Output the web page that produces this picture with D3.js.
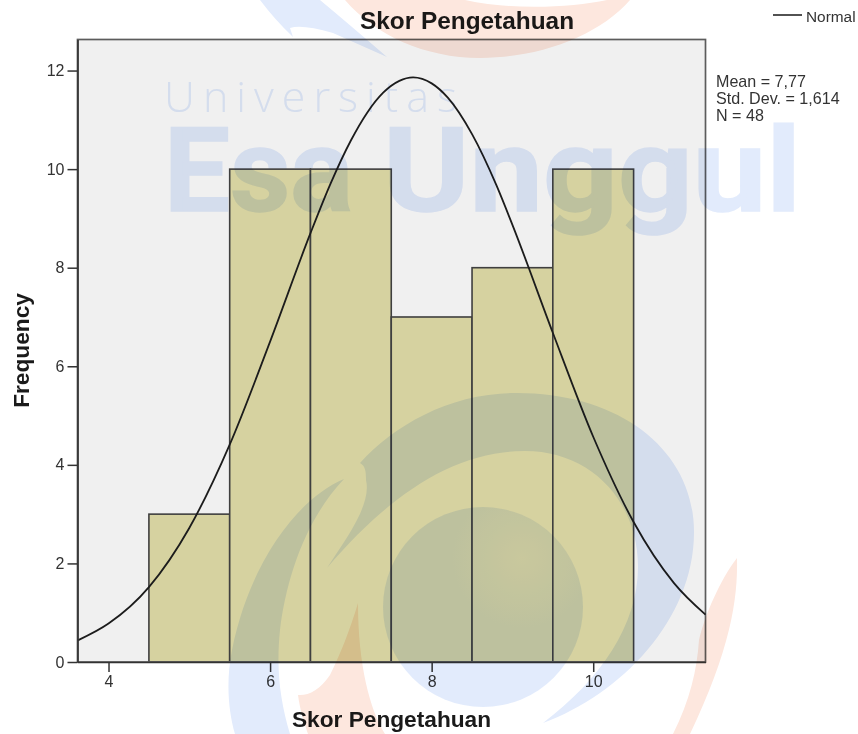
<!DOCTYPE html>
<html>
<head>
<meta charset="utf-8">
<script src="https://cdn.jsdelivr.net/npm/d3@7"></script>
<style>
  html, body { margin: 0; padding: 0; background: #fff; overflow: hidden; }
  svg { display: block; filter: blur(0.45px); }
  text { font-family: "Liberation Sans", Arial, sans-serif; }
</style>
</head>
<body>
<div id="chart"></div>
<script>
// histogram
var binCenters = [5, 6, 7, 8, 9, 10];
var binCounts = [3, 10, 10, 7, 8, 10];

// normal curve
var curveX = [3.62, 4, 4.5, 5, 5.5, 6, 6.5, 6.75, 7, 7.2, 7.4, 7.6, 7.77, 8, 8.2, 8.5, 8.8, 9, 9.5, 10, 10.5, 11, 11.39];
var curveY = [0.44, 0.78, 1.52, 2.72, 4.41, 6.5, 8.7, 9.71, 10.58, 11.14, 11.55, 11.79, 11.86, 11.74, 11.45, 10.71, 9.68, 8.87, 6.68, 4.57, 2.84, 1.6, 0.96];

var xTicks = [4, 6, 8, 10];
var yTicks = [0, 2, 4, 6, 8, 10, 12];
var statLines = ["Mean = 7,77", "Std. Dev. = 1,614", "N = 48"];
var titleText = "Skor Pengetahuan";
var xTitle = "Skor Pengetahuan";
var yTitle = "Frequency";
var legendText = "Normal";

var width = 858;
var height = 734;
var margin = { top: 39.5, right: 152.5, bottom: 72, left: 77.5 };
var lineColor = "#333";

var svg = d3.select("#chart").append("svg")
  .attr("width", width)
  .attr("height", height);

svg.append("rect")
  .attr("width", width)
  .attr("height", height)
  .attr("fill", "#fff");

var x = d3.scaleLinear()
  .domain([3.616, 11.39])
  .range([margin.left, width - margin.right]);

var y = d3.scaleLinear()
  .domain([0, 12.63])
  .range([height - margin.bottom, margin.top]);

// plot frame
svg.append("rect")
  .attr("x", margin.left)
  .attr("y", margin.top)
  .attr("width", width - margin.left - margin.right)
  .attr("height", height - margin.top - margin.bottom)
  .attr("fill", "#f0f0f0");

// bars
svg.selectAll("rect.bar")
  .data(binCenters)
  .enter()
  .append("rect")
  .attr("class", "bar")
  .attr("x", function (d) { return x(d - 0.5); })
  .attr("y", function (d, i) { return y(binCounts[i]); })
  .attr("width", function (d) { return x(d + 0.5) - x(d - 0.5); })
  .attr("height", function (d, i) { return y(0) - y(binCounts[i]); })
  .attr("fill", "#d6d2a0")
  .attr("stroke", "#3f3f3f")
  .attr("stroke-width", 1.6);

// frame on top of bars, left and bottom come from the axes
svg.append("rect")
  .attr("x", margin.left)
  .attr("y", margin.top)
  .attr("width", width - margin.left - margin.right)
  .attr("height", height - margin.top - margin.bottom)
  .attr("fill", "none")
  .attr("stroke", "#5c5c5c")
  .attr("stroke-width", 1.7);

var line = d3.line()
  .x(function (d) { return x(d); })
  .y(function (d, i) { return y(curveY[i]); })
  .curve(d3.curveMonotoneX);

svg.append("path")
  .datum(curveX)
  .attr("d", line)
  .attr("fill", "none")
  .attr("stroke", "#1c1c1c")
  .attr("stroke-width", 1.8);

// axes
var xAxis = svg.append("g")
  .attr("transform", "translate(0," + y(0) + ")")
  .call(d3.axisBottom(x).tickValues(xTicks).tickSize(10).tickPadding(4).tickSizeOuter(0));
var yAxis = svg.append("g")
  .attr("transform", "translate(" + margin.left + ",0)")
  .call(d3.axisLeft(y).tickValues(yTicks).tickSize(10).tickPadding(3).tickSizeOuter(0));

[xAxis, yAxis].forEach(function (g) {
  g.select(".domain").attr("stroke", lineColor).attr("stroke-width", 1.7);
  g.selectAll(".tick line").attr("stroke", lineColor).attr("stroke-width", 1.5);
  g.selectAll(".tick text")
    .attr("fill", "#333")
    .style("font-family", "'Liberation Sans', Arial, sans-serif")
    .style("font-size", "16px");
});

// titles
svg.append("text")
  .attr("x", 467)
  .attr("y", 29)
  .attr("text-anchor", "middle")
  .attr("fill", "#1a1a1a")
  .style("font-size", "24.4px")
  .style("font-weight", "bold")
  .text(titleText);

svg.append("text")
  .attr("x", 391.5)
  .attr("y", 727)
  .attr("text-anchor", "middle")
  .attr("fill", "#1a1a1a")
  .style("font-size", "22.7px")
  .style("font-weight", "bold")
  .text(xTitle);

svg.append("text")
  .attr("transform", "translate(29,350.5) rotate(-90)")
  .attr("text-anchor", "middle")
  .attr("fill", "#1a1a1a")
  .style("font-size", "22.7px")
  .style("font-weight", "bold")
  .text(yTitle);

// legend and stats
svg.append("line")
  .attr("x1", 773)
  .attr("x2", 802)
  .attr("y1", 15)
  .attr("y2", 15)
  .attr("stroke", "#333")
  .attr("stroke-width", 1.7);

svg.append("text")
  .attr("x", 806)
  .attr("y", 22)
  .attr("fill", "#333")
  .style("font-size", "15.4px")
  .text(legendText);

svg.selectAll("text.stat")
  .data(statLines)
  .enter()
  .append("text")
  .attr("class", "stat")
  .attr("x", 716)
  .attr("y", function (d, i) { return 87 + i * 17; })
  .attr("fill", "#333")
  .style("font-size", "16.1px")
  .text(function (d) { return d; });

// watermark, laid over everything
var defs = svg.append("defs");
var glow = defs.append("radialGradient")
  .attr("id", "discGlow")
  .attr("gradientUnits", "userSpaceOnUse")
  .attr("cx", 522)
  .attr("cy", 558)
  .attr("r", 70);
glow.append("stop").attr("offset", "0%").attr("stop-color", "#f0f3fa");
glow.append("stop").attr("offset", "100%").attr("stop-color", "#e2ebfc");

var mark = svg.append("g").style("mix-blend-mode", "multiply");
var blue = "#e2ebfc";
var peach = "#fde7de";

var bluePaths = [
  // big crescent
  "M360,463 C395,425 450,393 517,393 C620,393 694,450 694,532 C694,620 620,695 543,723 C600,680 638,625 638,567 C638,500 590,451 525,451 C450,451 385,500 327,568 C345,540 372,505 366,480 C366,470 365,466 360,463 Z",
  // left swoosh
  "M344,479 C300,497 250,560 232,650 C226,680 228,710 235,734 L290,734 C280,700 276,670 280,630 C286,580 305,520 344,479 Z",
  // top swoosh
  "M260,0 Q275,20 293,37 L290,28 Q302,24 333,33 Q360,45 387,57 Q350,25 320,0 Z"
];
var peachPaths = [
  // top arc
  "M345,0 C375,35 425,58 480,58 C540,58 600,35 630,0 L607,0 C570,8 510,10 465,0 Z",
  // center flame
  "M358,603 C350,630 340,655 330,675 C320,690 308,696 298,695 C300,710 304,722 308,734 L385,734 C370,710 358,665 358,603 Z",
  // right arc
  "M737,558 C738,600 730,650 690,734 L673,734 C690,700 697,670 699,640 C705,615 720,580 737,558 Z"
];

mark.selectAll("path.blue")
  .data(bluePaths)
  .enter()
  .append("path")
  .attr("class", "blue")
  .attr("d", function (d) { return d; })
  .attr("fill", blue);

mark.selectAll("path.peach")
  .data(peachPaths)
  .enter()
  .append("path")
  .attr("class", "peach")
  .attr("d", function (d) { return d; })
  .attr("fill", peach);

mark.append("circle")
  .attr("cx", 483)
  .attr("cy", 607)
  .attr("r", 100)
  .attr("fill", "url(#discGlow)");

// the two words are placed apart, the gap in the logo is narrower than a normal space
[["Esa", 164, 189], ["Unggul", 383, 418]].forEach(function (w) {
  mark.append("text")
    .attr("x", w[1])
    .attr("y", 211)
    .attr("textLength", w[2])
    .attr("lengthAdjust", "spacingAndGlyphs")
    .attr("fill", blue)
    .attr("stroke", blue)
    .attr("stroke-width", 1.5)
    .style("font-family", "Roboto, sans-serif")
    .style("font-size", "117px")
    .style("font-weight", "bold")
    .text(w[0]);
});

mark.append("text")
  .attr("x", 164)
  .attr("y", 112)
  .attr("textLength", 293)
  .attr("lengthAdjust", "spacing")
  .attr("fill", blue)
  .style("font-family", "'Open Sans', sans-serif")
  .style("font-size", "43px")
  .style("font-weight", 300)
  .text("Universitas");
</script>
</body>
</html>
